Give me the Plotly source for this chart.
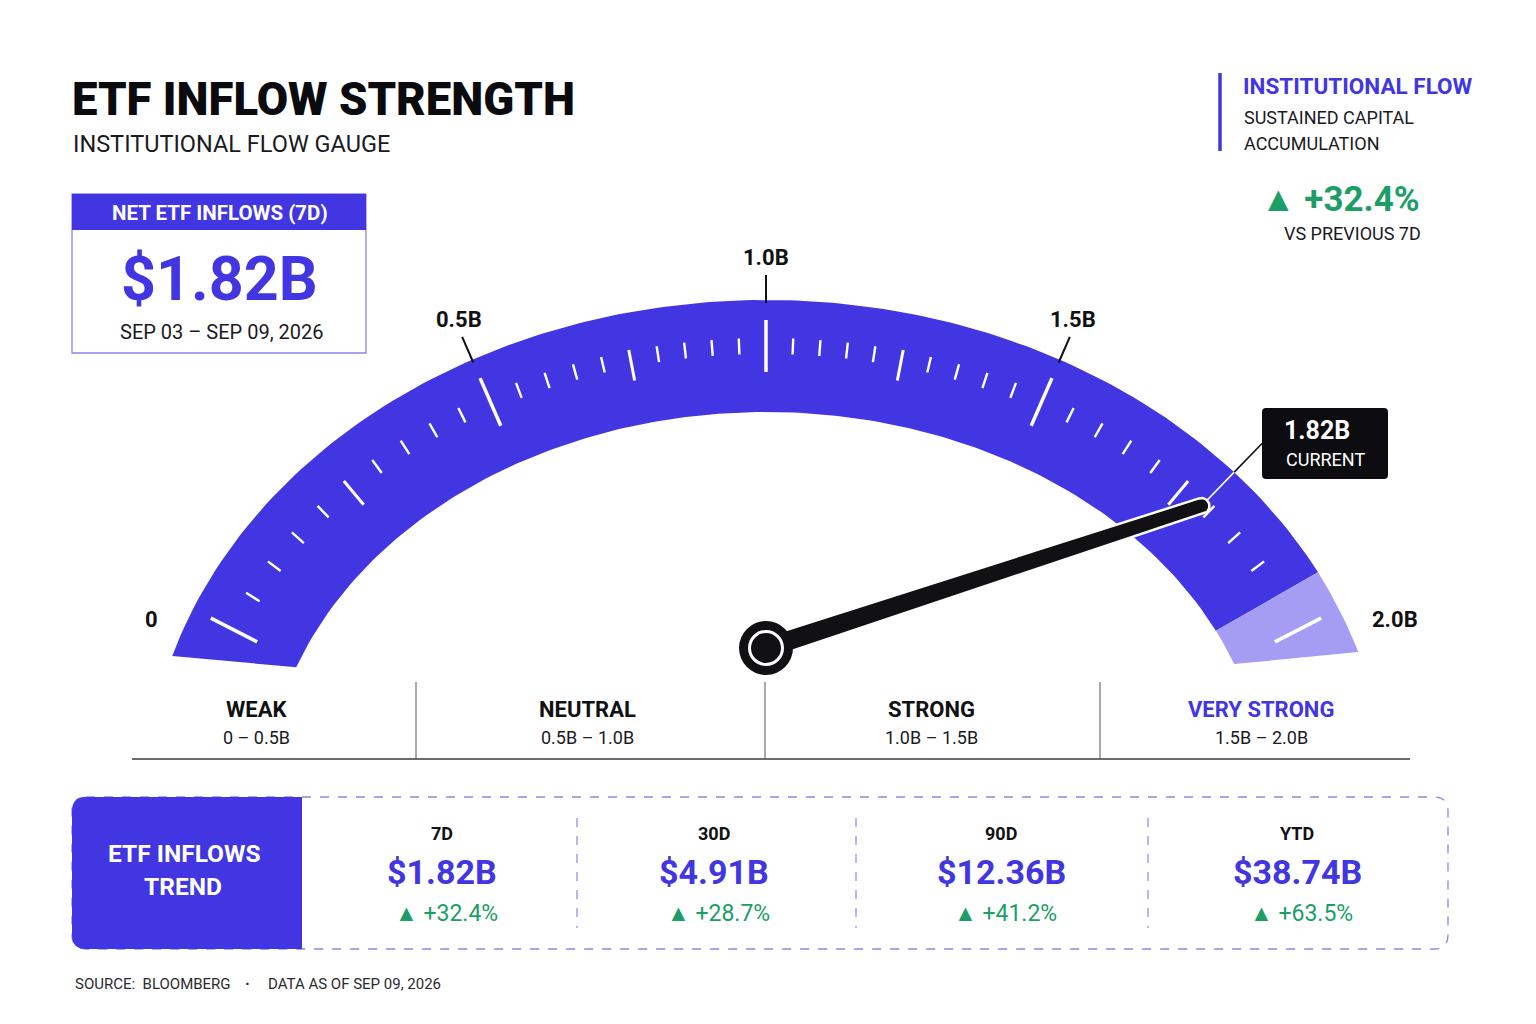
import numpy as np
import plotly.graph_objects as go

# gauge scale, billions of USD
scale_values = [0, 0.5, 1.0, 1.5, 2.0]
scale_labels = ["0", "0.5B", "1.0B", "1.5B", "2.0B"]
current_value = 1.82
peak_zone_start = 1.95

zone_names = ["WEAK", "NEUTRAL", "STRONG", "VERY STRONG"]
zone_ranges = ["0 – 0.5B", "0.5B – 1.0B", "1.0B – 1.5B", "1.5B – 2.0B"]

net_inflow_7d = 1.82
change_vs_prev_7d = 32.4

trend_periods = ["7D", "30D", "90D", "YTD"]
trend_values = [1.82, 4.91, 12.36, 38.74]
trend_changes = [32.4, 28.7, 41.2, 63.5]

BLUE = "#4136E2"
LIGHT = "#A59DF3"
GREEN = "#1C9E66"
INK = "#111114"
EDGE = "#8C86EC"
FONT = "Roboto, sans-serif"

W, H = 1536, 1024
PX, PY = 766, 648   # needle pivot
DX, DY = 766, 710   # origin of the dial rays
EX, EY = 766, 800   # centre of the two arc ellipses
OUTER = (620, 500)
INNER = (500, 388)
DIAL_START, DIAL_SWEEP = 170, 80  # degrees at value 0, degrees per 1B
EDGE_SKEW = 0.05


def angle(v):
    return np.radians(DIAL_START - DIAL_SWEEP * np.asarray(v, dtype=float))


def arc_point(v, ell):
    # where the dial ray for value v meets the ellipse
    a, b = ell
    t = angle(v)
    c, s = np.cos(t), np.sin(t)
    h = EY - DY
    A = c**2 / a**2 + s**2 / b**2
    B = 2 * h * s / b**2
    C = h**2 / b**2 - 1
    r = (-B + np.sqrt(B**2 - 4 * A * C)) / (2 * A)
    return DX + r * c, DY - r * s


def inward(x, y):
    a, b = OUTER
    gx, gy = (x - EX) / a**2, (EY - y) / b**2
    n = np.hypot(gx, gy)
    return -gx / n, gy / n


def band(o0, o1, i0, i1):
    vo = np.linspace(o0, o1, 160)
    vi = np.linspace(i0, i1, 160)
    ox, oy = arc_point(vo, OUTER)
    ix, iy = arc_point(vi, INNER)
    xs = np.concatenate([ox, ix[::-1], ox[:1]])
    ys = np.concatenate([oy, iy[::-1], oy[:1]])
    return xs, ys


def tick_segments(values, d0, d1):
    xs, ys = [], []
    for v in values:
        x, y = arc_point(v, OUTER)
        ux, uy = inward(x, y)
        xs += [x + ux * d0, x + ux * d1, None]
        ys += [y + uy * d0, y + uy * d1, None]
    return xs, ys


def rounded_rect(x0, y0, x1, y1, r, left_only=False):
    rr = 0 if left_only else r
    return (
        f"M {x0 + r},{y0} L {x1 - rr},{y0} Q {x1},{y0} {x1},{y0 + rr} "
        f"L {x1},{y1 - rr} Q {x1},{y1} {x1 - rr},{y1} L {x0 + r},{y1} "
        f"Q {x0},{y1} {x0},{y1 - r} L {x0},{y0 + r} Q {x0},{y0} {x0 + r},{y0} Z"
    )


fig = go.Figure()

# arc band + pale top zone
lo, hi = scale_values[0] - 0.06, scale_values[-1] + 0.055
bx, by = band(lo, peak_zone_start, lo, peak_zone_start + EDGE_SKEW)
fig.add_trace(go.Scatter(x=bx, y=by, fill="toself", fillcolor=BLUE,
                         line=dict(width=0), mode="lines", hoverinfo="skip"))
lx, ly = band(peak_zone_start, hi, peak_zone_start + EDGE_SKEW, hi)
fig.add_trace(go.Scatter(x=lx, y=ly, fill="toself", fillcolor=LIGHT,
                         line=dict(width=0), mode="lines", hoverinfo="skip"))

# tick marks
step = 0.05
all_steps = np.round(np.arange(0, 2.0 + step / 2, step), 2)
major = [v for v in all_steps if v in scale_values]
medium = [v for v in all_steps if round(v / 0.25, 4) % 1 == 0 and v not in scale_values]
minor = [v for v in all_steps if v not in major and v not in medium and v < 1.93]
for vals, d0, d1, w in [(major, 20, 72, 3.5), (medium, 37, 68, 3), (minor, 38, 54, 2.4)]:
    tx, ty = tick_segments(vals, d0, d1)
    fig.add_trace(go.Scatter(x=tx, y=ty, mode="lines", line=dict(color="white", width=w),
                             hoverinfo="skip"))

# scale labels with leader lines
for v, lab in zip(scale_values, scale_labels):
    x, y = arc_point(v, OUTER)
    ux, uy = inward(x, y)
    lab_font = dict(family=FONT, size=22, color=INK, weight=700)
    if 0 < v < 2:
        ex, ey = x - ux * 25, y - uy * 25
        fig.add_trace(go.Scatter(x=[x + ux * 3, ex], y=[y + uy * 3, ey], mode="lines",
                                 line=dict(color=INK, width=2), hoverinfo="skip"))
        fig.add_annotation(x=ex - ux * 8, y=ey - 3, text=lab, showarrow=False,
                           xanchor="center", yanchor="bottom", font=lab_font)
    else:
        fig.add_annotation(x=x - 33 if v == 0 else x + 31, y=y + 11, text=lab,
                           showarrow=False, xanchor="right" if v == 0 else "left",
                           yanchor="middle", font=lab_font)

# needle, pointing at the current value on the dial
gx, gy = arc_point(current_value, OUTER)
t = np.arctan2(PY - gy, gx - PX)
L = 458
ux, uy = np.cos(t), -np.sin(t)
px_, py_ = -uy, ux
tipx, tipy = PX + ux * L, PY + uy * L
arc = np.linspace(-np.pi / 2, np.pi / 2, 30)
wb, wt = 11, 8
nx = [PX + px_ * wb] + [tipx + wt * (np.cos(a) * ux + np.sin(a) * px_) for a in arc[::-1]] + [PX - px_ * wb]
ny = [PY + py_ * wb] + [tipy + wt * (np.cos(a) * uy + np.sin(a) * py_) for a in arc[::-1]] + [PY - py_ * wb]
nx.append(nx[0])
ny.append(ny[0])

# callout leader from the needle tip to the label box
box = (1262, 408, 1388, 479)
bxm, bym = box[0], (box[1] + box[3]) / 2
ss = np.linspace(0, 1, 400)
cx, cy = tipx + ss * (bxm - tipx), tipy + ss * (bym - tipy)
f = ((cx - EX) / OUTER[0]) ** 2 + ((EY - cy) / OUTER[1]) ** 2
k = int(np.argmax(f > 1))
fig.add_trace(go.Scatter(x=[tipx, cx[k]], y=[tipy, cy[k]], mode="lines",
                         line=dict(color="white", width=1.6), hoverinfo="skip"))
fig.add_trace(go.Scatter(x=[cx[k], bxm], y=[cy[k], bym], mode="lines",
                         line=dict(color=INK, width=1.6), hoverinfo="skip"))

fig.add_trace(go.Scatter(x=nx, y=ny, fill="toself", fillcolor=INK, mode="lines",
                         line=dict(color="white", width=2.5), hoverinfo="skip"))
fig.add_trace(go.Scatter(x=[PX], y=[PY], mode="markers", hoverinfo="skip",
                         marker=dict(size=54, color=INK)))
fig.add_trace(go.Scatter(x=[PX], y=[PY], mode="markers", hoverinfo="skip",
                         marker=dict(size=33, color=INK, line=dict(color="white", width=3))))

shapes = []
shapes.append(dict(type="path", path=rounded_rect(*box, 4), fillcolor="#0C0C10",
                   line=dict(width=0)))


def txt(x, y, text, size, color=INK, weight=400, xanchor="center"):
    fig.add_annotation(x=x, y=y, text=text, showarrow=False, xanchor=xanchor,
                       yanchor="middle", font=dict(family=FONT, size=size, color=color,
                                                   weight=weight))


txt(1317, 430, f"{current_value:.2f}B", 25, "white", 700)
txt(1325, 459, "CURRENT", 18, "white")

# header
txt(70, 99, "ETF INFLOW STRENGTH", 45.5, "#0B0B0F", 900, "left")
txt(71, 144, "INSTITUTIONAL FLOW GAUGE", 23.5, "#1A1A1F", 400, "left")

# 7D box
shapes.append(dict(type="rect", x0=72, y0=194, x1=366, y1=353,
                   line=dict(color=EDGE, width=1.3), fillcolor="white"))
shapes.append(dict(type="rect", x0=72, y0=194, x1=366, y1=230,
                   line=dict(width=0), fillcolor=BLUE))
txt(220, 213, "NET ETF INFLOWS (7D)", 20.5, "white", 700)
txt(219, 279, f"${net_inflow_7d:.2f}B", 61, BLUE, 700)
txt(222, 332, "SEP 03 – SEP 09, 2026", 20, "#1A1A1F")

# top right note
shapes.append(dict(type="line", x0=1220, y0=73, x1=1220, y1=151,
                   line=dict(color=BLUE, width=3.5)))
txt(1241, 86, "INSTITUTIONAL FLOW", 22.5, BLUE, 700, "left")
txt(1242, 117, "SUSTAINED CAPITAL", 18, "#1A1A1F", 400, "left")
txt(1242, 143, "ACCUMULATION", 18, "#1A1A1F", 400, "left")
txt(1340, 199, f"▲ +{change_vs_prev_7d:.1f}%", 35, GREEN, 700)
txt(1352, 233, "VS PREVIOUS 7D", 18, "#1A1A1F")

# zone legend row
shapes.append(dict(type="line", x0=132, y0=759, x1=1410, y1=759,
                   line=dict(color="#3A3A40", width=1.3)))
for xd in [416, 765, 1100]:
    shapes.append(dict(type="line", x0=xd, y0=682, x1=xd, y1=759,
                       line=dict(color="#55555C", width=1)))
for xc, name, rng in zip([256, 587, 931, 1261], zone_names, zone_ranges):
    txt(xc, 709, name, 22, BLUE if name == zone_names[-1] else INK, 700)
    txt(xc, 737, rng, 18, "#1A1A1F")

# trend panel
shapes.append(dict(type="path", path=rounded_rect(72, 797, 1448, 949, 14),
                   line=dict(color=EDGE, width=1.3, dash="dash"), fillcolor="white"))
shapes.append(dict(type="path", path=rounded_rect(72, 797, 302, 949, 14, left_only=True),
                   line=dict(width=0), fillcolor=BLUE))
txt(184, 853, "ETF INFLOWS", 24.5, "white", 700)
txt(183, 886, "TREND", 24.5, "white", 700)
for xd in [577, 856, 1148]:
    shapes.append(dict(type="line", x0=xd, y0=818, x1=xd, y1=928,
                       line=dict(color=EDGE, width=1.2, dash="dash")))
for xc, per, val, chg in zip([442, 714, 1001, 1297], trend_periods, trend_values, trend_changes):
    txt(xc, 833, per, 18, INK, 700)
    txt(xc, 872, f"${val:.2f}B", 34, BLUE, 700)
    txt(xc + 4, 913, f"▲ +{chg:.1f}%", 23, GREEN)

# footer
txt(73, 984, "SOURCE:  BLOOMBERG", 15, "#2A2A30", 400, "left")
txt(247, 983, "<b>·</b>", 16, "#2A2A30")
txt(266, 984, "DATA AS OF SEP 09, 2026", 15, "#2A2A30", 400, "left")

fig.update_layout(
    width=W, height=H, autosize=False,
    margin=dict(l=0, r=0, t=0, b=0),
    paper_bgcolor="white", plot_bgcolor="white",
    showlegend=False, shapes=shapes,
    xaxis=dict(range=[0, W], visible=False, fixedrange=True),
    yaxis=dict(range=[H, 0], visible=False, fixedrange=True),
)
fig.write_html("out.html", config={"displayModeBar": False},
               post_script="document.body.style.margin='0';")
